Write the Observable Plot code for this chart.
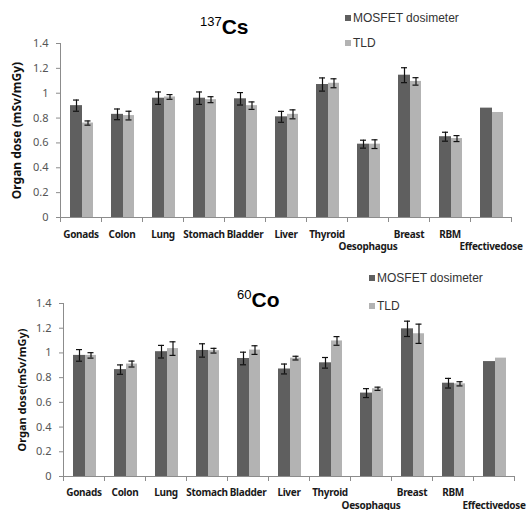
<!DOCTYPE html>
<html><head><meta charset="utf-8">
<script src="https://cdn.jsdelivr.net/npm/d3@7"></script>
<script src="https://cdn.jsdelivr.net/npm/@observablehq/plot@0.6"></script>
<style>
body{margin:0;background:#fff;font-family:"Liberation Sans",Arial,sans-serif;}
.panel{position:relative;width:527px;height:255px;overflow:hidden;}
.panel svg{position:absolute;left:0;top:0;}
.title{position:absolute;font-weight:bold;color:#000;font-size:21px;line-height:20px;white-space:nowrap;}
.title .sup{font-size:13px;font-weight:normal;position:relative;top:-8px;}
.legend{position:absolute;font-size:12px;color:#333;line-height:14px;white-space:nowrap;}
.legend .sw{display:inline-block;width:6px;height:6px;margin-right:2px;vertical-align:1px;}
svg [aria-label="x-axis tick label"] text{font-weight:bold;letter-spacing:-0.3px;}
</style>
</head><body>
<div id="root"></div>
<script>
const organs = ["Gonads","Colon","Lung","Stomach","Bladder","Liver","Thyroid","Oesophagus","Breast","RBM","Effectivedose"];
const series = ["MOSFET dosimeter","TLD"];
const yTicks = [0,0.2,0.4,0.6,0.8,1,1.2,1.4];
const row2Labels = ["Oesophagus","Effectivedose"];

const csMosfet    = [0.90,0.83,0.96,0.96,0.955,0.81,1.07,0.59,1.145,0.65,0.88];
const csMosfetErr = [0.045,0.043,0.05,0.05,0.05,0.044,0.053,0.032,0.06,0.036,null];
const csTld       = [0.76,0.82,0.97,0.948,0.90,0.83,1.08,0.59,1.095,0.635,0.845];
const csTldErr    = [0.017,0.035,0.019,0.024,0.03,0.036,0.036,0.035,0.03,0.024,null];

const coMosfet    = [0.98,0.865,1.01,1.02,0.955,0.87,0.92,0.675,1.195,0.755,0.93];
const coMosfetErr = [0.047,0.038,0.051,0.054,0.051,0.04,0.043,0.036,0.062,0.039,null];
const coTld       = [0.98,0.91,1.035,1.018,1.023,0.958,1.097,0.71,1.155,0.75,0.958];
const coTldErr    = [0.022,0.024,0.055,0.019,0.035,0.015,0.035,0.013,0.078,0.017,null];

const DARK = "#5f5f5f", LIGHT = "#b3b3b3", AXIS = "#8c8c8c";

function panel(cfg) {
  const rows = organs.map((o, i) => ({organ: o, m: cfg.m[i], me: cfg.me[i], t: cfg.t[i], te: cfg.te[i]}));
  const mErr = rows.filter(d => d.me != null);
  const tErr = rows.filter(d => d.te != null);
  const row1 = organs.filter(o => !row2Labels.includes(o));
  const fmt = d => String(+d.toFixed(1));
  const eb = {stroke: "#111", strokeWidth: 1.2};
  const chart = Plot.plot({
    width: 527, height: 255,
    marginLeft: cfg.ml, marginRight: cfg.mr, marginTop: cfg.mt, marginBottom: cfg.mb,
    style: {background: "transparent", overflow: "visible"},
    x: {type: "band", domain: organs, padding: 0, axis: null},
    y: {domain: [0, 1.4], axis: null},
    marks: [
      Plot.barY(rows, {x: "organ", y: "m", fill: DARK, insetLeft: 10, insetRight: 19}),
      Plot.barY(rows, {x: "organ", y: "t", fill: LIGHT, insetLeft: 22, insetRight: 8}),
      Plot.ruleX(mErr, {x: "organ", y1: d => d.m - d.me, y2: d => d.m + d.me, dx: -4.5, ...eb}),
      Plot.tickY(mErr, {x: "organ", y: d => d.m + d.me, insetLeft: 13, insetRight: 22, ...eb}),
      Plot.tickY(mErr, {x: "organ", y: d => d.m - d.me, insetLeft: 13, insetRight: 22, ...eb}),
      Plot.ruleX(tErr, {x: "organ", y1: d => d.t - d.te, y2: d => d.t + d.te, dx: 7, ...eb}),
      Plot.tickY(tErr, {x: "organ", y: d => d.t + d.te, insetLeft: 24.5, insetRight: 10.5, ...eb}),
      Plot.tickY(tErr, {x: "organ", y: d => d.t - d.te, insetLeft: 24.5, insetRight: 10.5, ...eb}),
      Plot.ruleY([0], {stroke: AXIS}),
      Plot.frame({anchor: "left", stroke: AXIS}),
      Plot.axisY({ticks: yTicks, tickFormat: fmt, tickSize: 4, tickPadding: 8, stroke: AXIS, fill: "#555", fontSize: 11, label: null}),
      Plot.axisX({ticks: organs, tickSize: 5, fill: "none", stroke: AXIS, dx: -20.5, label: null}),
      Plot.axisX({ticks: [organs[organs.length - 1]], tickSize: 5, fill: "none", stroke: AXIS, dx: 20.5, label: null}),
      Plot.axisX({ticks: row1, tickSize: 0, tickPadding: cfg.p1, fill: "#1a1a1a", fontSize: 10, label: null}),
      Plot.axisX({ticks: row2Labels, tickSize: 0, tickPadding: cfg.p2, fill: "#1a1a1a", fontSize: 10, label: null}),
      Plot.text([cfg.ylabel], {frameAnchor: "left", textAnchor: "middle", rotate: -90, dx: cfg.ylx, fontWeight: "bold", fontSize: cfg.ylfs, fill: "#111"})
    ]
  });
  const div = document.createElement("div");
  div.className = "panel";
  div.appendChild(chart);
  const t = document.createElement("div");
  t.className = "title";
  t.style.left = cfg.tx + "px"; t.style.top = cfg.ty + "px";
  t.innerHTML = `<span class="sup">${cfg.iso}</span>${cfg.el}`;
  div.appendChild(t);
  const colors = [DARK, LIGHT];
  series.forEach((s, i) => {
    const l = document.createElement("div");
    l.className = "legend";
    l.style.left = cfg.lx + "px"; l.style.top = cfg.ly[i] + "px";
    l.innerHTML = `<span class="sw" style="background:${colors[i]}"></span>${s}`;
    div.appendChild(l);
  });
  return div;
}

const root = document.getElementById("root");
root.appendChild(panel({m: csMosfet, me: csMosfetErr, t: csTld, te: csTldErr,
  ml: 60, mr: 16, mt: 43, mb: 38, p1: 13, p2: 25, ylabel: "Organ dose (mSv/mGy)", ylx: -43, ylfs: 12,
  iso: "137", el: "Cs", tx: 200, ty: 17, lx: 345, ly: [11, 36]}));
root.appendChild(panel({m: coMosfet, me: coMosfetErr, t: coTld, te: coTldErr,
  ml: 63, mr: 13, mt: 48, mb: 34, p1: 12, p2: 25, ylabel: "Organ dose(mSv/mGy)", ylx: -41, ylfs: 11,
  iso: "60", el: "Co", tx: 237, ty: 35, lx: 369, ly: [16, 44]}));
</script>
</body></html>
